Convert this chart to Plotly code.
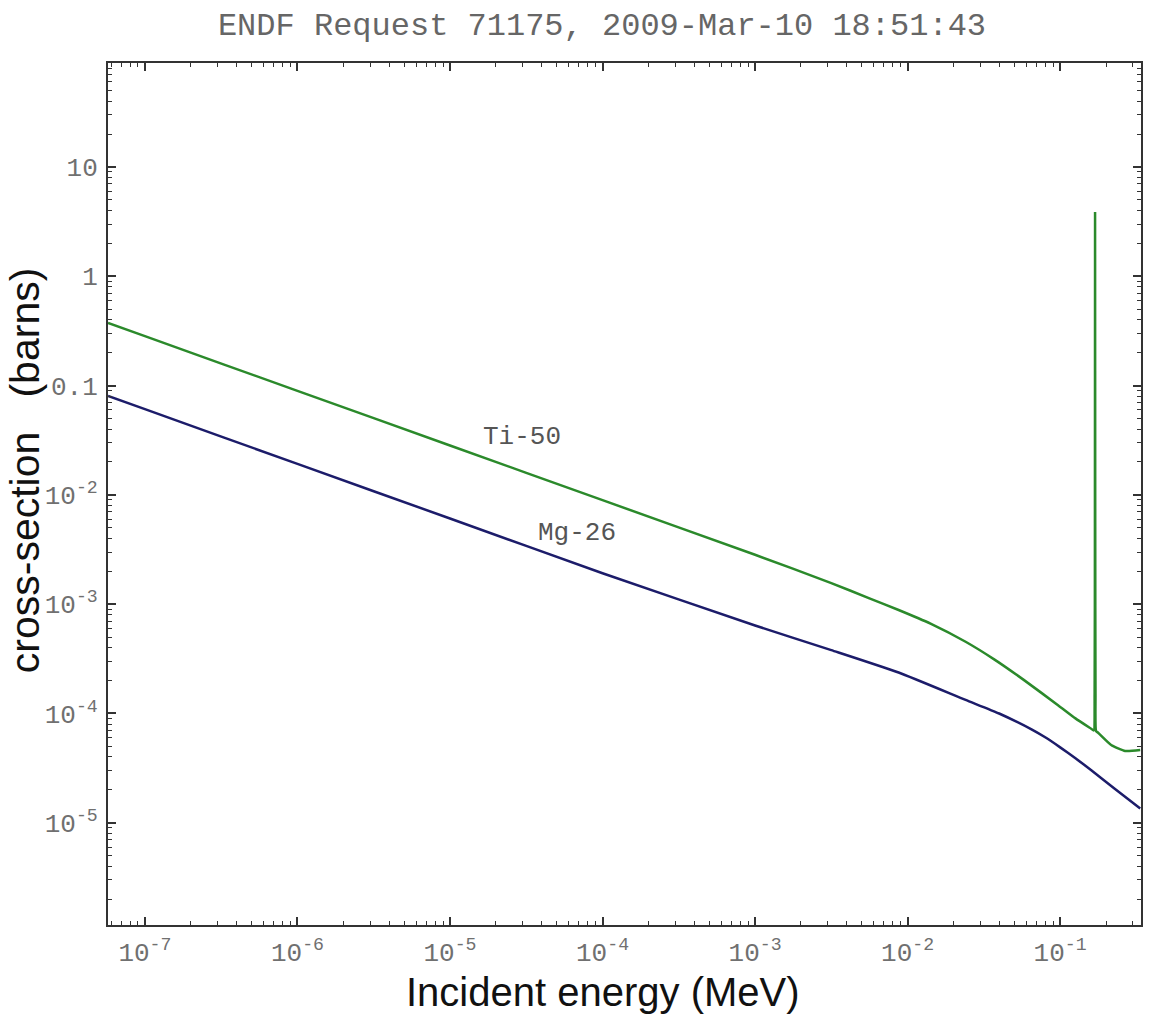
import math
import plotly.graph_objects as go

# Ti-50 cross-section (barns) versus incident energy (MeV)
ti50_energy = [5.73e-8, 1.0e-7, 1.0e-6, 1.0e-5, 1.0e-4, 1.0e-3, 3.16e-3, 5.62e-3, 8.73e-3,
               1.413e-2, 2.40e-2, 3.715e-2, 5.74e-2, 9.73e-2, 0.126, 0.160, 0.1660,
               0.1683, 0.1690, 0.1694, 0.1698, 0.1705, 0.1720, 0.178, 0.216, 0.267, 0.335]
ti50_sigma = [0.374, 0.283, 8.95e-2, 2.83e-2, 8.95e-3, 2.83e-3, 1.56e-3, 1.13e-3, 8.85e-4,
              6.64e-4, 4.53e-4, 3.11e-4, 2.04e-4, 1.186e-4, 9.02e-5, 7.24e-5, 7.0e-5,
              1.55e-4, 5.5e-3, 3.87, 5.5e-3, 1.5e-4, 6.9e-5, 6.64e-5, 5.15e-5, 4.54e-5, 4.63e-5]

# Mg-26 cross-section (barns) versus incident energy (MeV)
mg26_energy = [5.73e-8, 1.0e-7, 1.0e-6, 1.0e-5, 1.0e-4, 1.0e-3, 3.16e-3, 8.73e-3,
               2.40e-2, 3.98e-2, 6.49e-2, 8.13e-2, 0.100, 0.126, 0.160, 0.229, 0.335]
mg26_sigma = [8.04e-2, 6.08e-2, 1.92e-2, 6.08e-3, 1.92e-3, 6.38e-4, 3.80e-4, 2.37e-4,
              1.33e-4, 1.0e-4, 7.16e-5, 5.96e-5, 4.90e-5, 3.89e-5, 3.02e-5, 2.04e-5, 1.35e-5]

# Axis ticks
x_tick_vals = [1e-7, 1e-6, 1e-5, 1e-4, 1e-3, 1e-2, 1e-1]
x_tick_text = ["10<sup>-7</sup>", "10<sup>-6</sup>", "10<sup>-5</sup>", "10<sup>-4</sup>",
               "10<sup>-3</sup>", "10<sup>-2</sup>", "10<sup>-1</sup>"]
y_tick_vals = [10, 1, 0.1, 1e-2, 1e-3, 1e-4, 1e-5]
y_tick_text = ["10", "1", "0.1", "10<sup>-2</sup>", "10<sup>-3</sup>",
               "10<sup>-4</sup>", "10<sup>-5</sup>"]

# Series labels placed along the curves (energy in MeV, cross-section in barns)
curve_labels = ["Ti-50", "Mg-26"]
curve_label_x = [2.98e-5, 6.82e-5]
curve_label_y = [3.39e-2, 4.48e-3]

GREEN = "#2b8a2b"
NAVY = "#1c1c6a"
AXIS = "#333333"
TICKFONT = dict(family="Liberation Mono", size=26, color="#707070")


def minor_vals(lo, hi):
    vals = []
    for p in range(lo, hi):
        for k in range(2, 10):
            vals.append(k * 10.0 ** p)
    return vals


fig = go.Figure()
fig.add_trace(go.Scatter(x=ti50_energy, y=ti50_sigma, mode="lines",
                         line=dict(color=GREEN, width=2.5, shape="spline", smoothing=0.5),
                         name="Ti-50"))
fig.add_trace(go.Scatter(x=mg26_energy, y=mg26_sigma, mode="lines",
                         line=dict(color=NAVY, width=2.5, shape="spline", smoothing=0.5),
                         name="Mg-26"))

# annotations on log axes take log10 coordinates
for txt, lx, ly in zip(curve_labels, curve_label_x, curve_label_y):
    fig.add_annotation(x=math.log10(lx), y=math.log10(ly), xref="x", yref="y",
                       text=txt, showarrow=False,
                       font=dict(family="Liberation Mono", size=26, color="#555555"))

axis_common = dict(
    type="log", showgrid=False, zeroline=False, showline=True, linecolor=AXIS,
    linewidth=2, mirror="allticks", ticks="inside", ticklen=8, tickwidth=1.5,
    tickcolor=AXIS, tickmode="array", tickfont=TICKFONT,
)

fig.update_xaxes(
    **axis_common, range=[-7.242, -0.470],
    tickvals=x_tick_vals, ticktext=x_tick_text, ticklabelstandoff=3,
    minor=dict(tickmode="array", tickvals=minor_vals(-8, 0), ticks="inside",
               ticklen=4, tickwidth=1.2, tickcolor=AXIS),
)
fig.update_yaxes(
    **axis_common, range=[-5.935, 1.951],
    tickvals=y_tick_vals, ticktext=y_tick_text, ticklabelstandoff=3,
    minor=dict(tickmode="array", tickvals=minor_vals(-6, 2), ticks="inside",
               ticklen=4, tickwidth=1.2, tickcolor=AXIS),
)

fig.add_annotation(text="Incident energy (MeV)", xref="paper", yref="paper",
                   x=0.479, y=-0.0775, xanchor="center", yanchor="middle",
                   showarrow=False,
                   font=dict(family="Liberation Sans", size=40, color="#111111"))
fig.add_annotation(text="cross-section\u00a0\u00a0\u00a0(barns)", xref="paper", yref="paper",
                   x=-0.080, y=0.528, xanchor="center", yanchor="middle",
                   textangle=-90, showarrow=False,
                   font=dict(family="Liberation Sans", size=41, color="#111111"))

fig.update_layout(
    width=1151, height=1015,
    margin=dict(l=108, r=8, t=63, b=90),
    paper_bgcolor="white", plot_bgcolor="white",
    showlegend=False,
    title=dict(text="ENDF Request 71175, 2009-Mar-10 18:51:43",
               x=0.523, xanchor="center", y=0.977, yanchor="middle",
               font=dict(family="Liberation Mono", size=32, color="#666666")),
)

fig.write_html("out.html")
